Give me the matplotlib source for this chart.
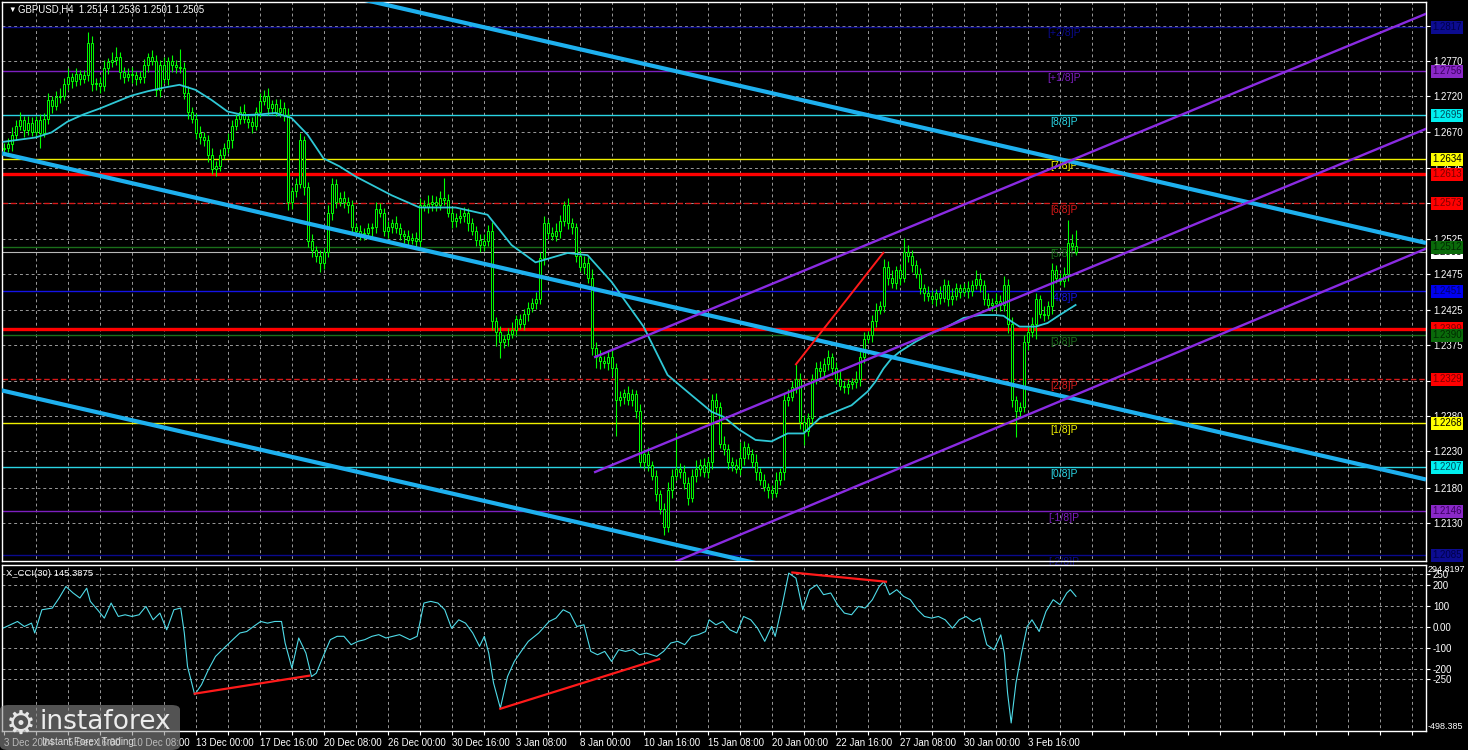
import numpy as np
import matplotlib.pyplot as plt
import matplotlib.transforms as mtransforms
from matplotlib.patches import FancyBboxPatch

plt.rcParams['font.family'] = ['Liberation Sans', 'DejaVu Sans']

W, H = 1468, 750

# GBPUSD H4, bar 0 = 3 Dec 2024 00:00. prices in pips above 1.2000
first_open = 648
closes = [
    650, 655, 668, 680, 688, 675, 684, 672, 688, 670,
    690, 716, 708, 720, 722, 738, 748, 742, 752, 745,
    750, 795, 738, 740, 735, 760, 768, 772, 775, 755,
    748, 752, 750, 745, 748, 765, 775, 770, 730, 765,
    745, 770, 765, 762, 760, 725, 700, 690, 670, 665,
    660, 640, 620, 625, 640, 650, 660, 680, 690, 700,
    690, 685, 680, 700, 715, 722, 705, 710, 700, 705,
    695, 575, 590, 600, 660, 595, 520, 508, 500, 490,
    505, 560, 600, 575, 580, 575, 570, 540, 535, 530,
    532, 538, 540, 565, 560, 535, 540, 545, 538, 530,
    528, 522, 525, 520, 570, 568, 572, 575, 570, 580,
    578, 560, 548, 552, 555, 560, 545, 535, 522, 515,
    520, 535, 410, 395, 380, 385, 392, 398, 412, 405,
    420, 428, 435, 440, 497, 545, 532, 528, 535, 548,
    570, 545, 540, 500, 485, 490, 470, 372, 360, 355,
    352, 360, 345, 300, 305, 310, 300, 308, 285, 215,
    225, 210, 195, 170, 150, 125, 175, 195, 205, 200,
    185, 165, 195, 205, 210, 200, 215, 300, 290, 240,
    232, 215, 210, 205, 220, 235, 225, 215, 200, 190,
    180, 175, 172, 190, 200, 300, 305, 318, 330, 270,
    258, 275, 330, 345, 340, 350, 360, 345, 330, 320,
    318, 322, 325, 330, 360, 385, 390, 410, 425, 430,
    485, 470, 462, 480, 470, 505, 500, 488, 475, 455,
    448, 445, 440, 448, 442, 460, 440, 445, 455, 450,
    455, 452, 460, 468, 460, 440, 432, 435, 438, 432,
    460, 405, 300, 285, 290, 380, 395, 405, 440, 420,
    418, 430, 480, 470, 465, 475, 518, 514, 505]
up_wick = [
    6, 8, 10, 8, 12, 6, 10, 8, 6, 8,
    8, 10, 6, 8, 10, 8, 12, 6, 8, 6,
    8, 15, 10, 6, 8, 12, 6, 10, 15, 8,
    6, 8, 10, 6, 8, 8, 6, 10, 8, 6,
    10, 6, 8, 6, 25, 8, 10, 6, 8, 10,
    6, 8, 10, 6, 8, 6, 10, 8, 6, 8,
    10, 6, 8, 6, 10, 8, 10, 6, 8, 12,
    8, 10, 6, 8, 10, 6, 8, 10, 6, 8,
    6, 10, 8, 6, 8, 10, 6, 8, 6, 8,
    6, 8, 6, 10, 8, 6, 8, 6, 10, 8,
    6, 8, 6, 8, 10, 8, 12, 10, 8, 10,
    28, 8, 6, 8, 10, 8, 6, 8, 6, 8,
    10, 8, 12, 6, 8, 6, 8, 10, 6, 8,
    6, 8, 6, 10, 8, 10, 6, 8, 10, 8,
    6, 10, 8, 6, 8, 10, 8, 12, 8, 10,
    6, 8, 10, 6, 8, 6, 10, 8, 6, 10,
    8, 10, 6, 8, 6, 8, 12, 10, 50, 8,
    10, 8, 10, 12, 8, 10, 6, 8, 10, 8,
    10, 8, 6, 8, 22, 8, 6, 8, 10, 6,
    8, 6, 8, 10, 6, 8, 10, 8, 20, 8,
    10, 8, 6, 8, 10, 8, 10, 6, 8, 10,
    6, 8, 6, 10, 8, 10, 6, 8, 10, 8,
    10, 8, 10, 6, 8, 20, 10, 8, 6, 8,
    6, 10, 8, 6, 10, 8, 6, 10, 8, 6,
    8, 10, 6, 12, 8, 6, 8, 6, 10, 8,
    12, 8, 10, 6, 8, 10, 8, 10, 8, 6,
    10, 8, 10, 8, 6, 10, 32, 12, 22]
dn_wick = [
    8, 6, 10, 8, 6, 10, 8, 6, 8, 20,
    6, 8, 10, 6, 8, 6, 8, 10, 6, 8,
    6, 8, 10, 8, 10, 6, 8, 6, 8, 10,
    8, 6, 10, 8, 6, 8, 10, 6, 8, 10,
    6, 8, 10, 8, 6, 8, 10, 6, 8, 10,
    8, 10, 6, 10, 8, 6, 8, 10, 6, 8,
    6, 8, 10, 6, 8, 6, 10, 8, 6, 8,
    8, 12, 10, 8, 6, 10, 8, 10, 8, 12,
    8, 6, 10, 8, 6, 8, 10, 8, 6, 8,
    8, 6, 10, 8, 6, 8, 10, 8, 6, 8,
    10, 8, 6, 10, 8, 6, 8, 10, 8, 6,
    8, 6, 10, 8, 6, 8, 10, 6, 8, 10,
    8, 6, 12, 20, 22, 8, 10, 6, 8, 6,
    8, 10, 6, 8, 6, 10, 8, 6, 8, 10,
    6, 8, 10, 8, 6, 10, 8, 10, 15, 12,
    8, 10, 12, 50, 8, 10, 6, 8, 10, 8,
    10, 8, 6, 10, 8, 12, 8, 10, 6, 8,
    8, 10, 6, 8, 10, 6, 8, 10, 8, 6,
    8, 10, 8, 6, 8, 10, 6, 8, 10, 8,
    6, 10, 8, 6, 8, 10, 8, 6, 8, 10,
    20, 8, 6, 8, 10, 6, 8, 10, 8, 6,
    8, 10, 6, 8, 10, 8, 6, 10, 8, 6,
    8, 10, 6, 8, 10, 6, 8, 10, 6, 8,
    10, 8, 6, 10, 8, 6, 10, 8, 6, 8,
    6, 10, 8, 6, 10, 8, 6, 8, 10, 8,
    8, 12, 10, 36, 8, 6, 10, 8, 20, 6,
    8, 6, 10, 8, 6, 8, 10, 6, 4]

# moving average (cyan line), pips above 1.2000
ma_bar = [0, 4, 8, 12, 16, 20, 24, 28, 32, 36, 40, 44, 48, 52, 56, 60, 64, 68, 72, 76,
          80, 84, 88, 97, 104, 113, 121, 127, 133, 141, 146, 152, 160, 166, 172, 177, 180,
          184, 188, 192, 196, 200, 204, 208, 212, 216, 218, 220, 222, 224, 228, 232, 236,
          240, 244, 248, 250, 252, 254, 258, 261, 264, 268]
ma_val = [658, 661, 664, 671, 686, 696, 704, 713, 722, 728, 733, 737, 730, 716, 700, 695,
          696, 698, 691, 668, 635, 624, 610, 584, 567, 567, 557, 515, 491, 504, 501, 464,
          402, 335, 307, 284, 277, 259, 245, 243, 254, 254, 275, 284, 293, 312, 326, 344,
          358, 367, 381, 393, 402, 414, 418, 418, 417, 409, 402, 402, 407, 418, 432]

# X_CCI(30)
cci_bar = [0, 1.7, 3.5, 5.2, 7, 7.8, 9.6, 12.2, 13.9, 15.6,
           17.4, 19.1, 20.8, 21.7, 23.5, 25.2, 26.9, 28.7, 30.4, 32.1,
           33.9, 35.6, 37.4, 39.1, 40.8, 42.6, 44.3, 45.2, 46, 47.8,
           49.5, 51.2, 53, 54.7, 57.3, 59.1, 60.8, 62.5, 64.3, 66,
           67.8, 69.5, 70.4, 72.1, 73.8, 75.6, 77, 78.2, 79.9, 81.7,
           83.4, 85.1, 86.9, 88.6, 90.3, 92.1, 93.8, 95.6, 97.3, 99,
           101.6, 103.4, 105.1, 106.8, 108.6, 110.3, 112, 113.8, 115.5, 117.3,
           119, 120.2, 121.3, 122.5, 124.2, 126, 127.7, 129.4, 131.2, 133.8,
           136.4, 138.1, 139.9, 141.6, 143.3, 145.1, 146.8, 148.5, 150.3, 152,
           153.8, 155.5, 157.2, 159, 160.7, 163.3, 165, 166.8, 168.5, 170.3,
           172, 173.7, 175.5, 176.4, 178.1, 179.8, 181.6, 183.3, 185, 186.8,
           188.5, 190.3, 192, 192.9, 194.6, 196.3, 198.1, 199.8, 201.5, 203.3,
           205, 206.8, 208.5, 210.2, 212, 213.7, 215.4, 217.2, 218.9, 220.1,
           221.5, 223.3, 225, 226.7, 228.5, 230.2, 232, 233.7, 235.4, 237.2,
           238.9, 240.6, 242.4, 244.1, 245.8, 247.6, 249.3, 250.2, 251, 251.9,
           253.1, 254.5, 255.9, 257.1, 258.9, 260.6, 262.4, 264.1, 265.8, 266.7,
           268.1]
cci_val = [-6, 9, 25, 1, 17, -30, 81, 89, 137, 192,
           161, 137, 184, 121, 81, 41, 113, 49, 57, 49,
           57, 97, 33, 65, -15, 81, 89, -30, -190, -325,
           -277, -206, -142, -110, -62, -30, -23, 1, 25, 17,
           25, 25, -78, -198, -54, -126, -238, -222, -142, -62,
           -46, -46, -86, -70, -62, -46, -38, -54, -46, -38,
           -62, -46, 113, 121, 113, 81, -7, 33, 17, -30,
           -94, -46, -126, -269, -389, -238, -166, -118, -70, -30,
           25, 41, 81, 65, 1, 9, -118, -134, -118, -166,
           -110, -118, -110, -134, -126, -142, -118, -78, -70, -86,
           -46, -38, -23, 33, 9, 25, -15, -30, 49, 33,
           -7, -70, 1, -46, 97, 256, 232, 81, 177, 200,
           153, 161, 105, 65, 57, 97, 89, 129, 192, 216,
           153, 177, 145, 129, 81, 49, 41, 49, 33, -7,
           33, 49, 25, 41, -86, -110, -39, -126, -317, -460,
           -269, -126, 1, 33, -23, 73, 129, 105, 161, 177,
           145]

# Murrey math levels
murrey_prices = [1.2085, 1.2146, 1.2207, 1.2268, 1.2329, 1.2390, 1.2451,
                 1.2512, 1.2573, 1.2634, 1.2695, 1.2756, 1.2817]
murrey_tags = ['[-2/8]P', '[-1/8]P', '[0/8]P', '[1/8]P', '[2/8]P', '[3/8]P', '[4/8]P',
               '[5/8]P', '[6/8]P', '[7/8]P', '[8/8]P', '[+1/8]P', '[+2/8]P']
murrey_colors = ['#0a0a8c', '#7d1fbf', '#2ad4e4', '#f0f000', '#d81818', '#1a6e1a', '#1414e6',
                 '#1a6e1a', '#d81818', '#f0f000', '#2ad4e4', '#7d1fbf', '#0a0a8c']
red_levels = [1.2613, 1.2399]
last_price = 1.2505

# price-scale boxes
box_prices = [1.2817, 1.2756, 1.2695, 1.2613, 1.2634, 1.2573, 1.2505, 1.2512,
              1.2451, 1.2399, 1.2390, 1.2329, 1.2268, 1.2207, 1.2146, 1.2085]
box_bg = ['#0c0c90', '#8a28c8', '#00f0f0', '#ff0000', '#ffff00', '#ff0000', '#ffffff', '#0a6a0a',
          '#0000f0', '#ff0000', '#0a6a0a', '#ff0000', '#ffff00', '#00f0f0', '#8a28c8', '#0c0c90']
box_fg = ['#00004a', '#3a0060', '#004a5a', '#7a0000', '#000000', '#7a0000', '#000000', '#002a00',
          '#00006a', '#7a0000', '#002a00', '#7a0000', '#000000', '#004a5a', '#3a0060', '#00004a']

# grid ticks; labels fully covered by the level boxes are left blank
price_ticks = [1.2819, 1.2770, 1.2721, 1.2672, 1.2622, 1.2573, 1.2524, 1.2475,
               1.2425, 1.2376, 1.2327, 1.2278, 1.2229, 1.2179, 1.2130]
price_labels = ['', '1.2770', '1.2720', '1.2670', '1.2625', '', '1.2525', '1.2475',
                '1.2425', '1.2375', '', '1.2280', '1.2230', '1.2180', '1.2130']
cci_ticks = [250, 200, 100, 0, -100, -200, -250]
cci_labels = ['250', '200', '100', '0.00', '-100', '-200', '-250']

date_bars = list(range(0, 257, 16))
date_labels = ['3 Dec 2024', '5 Dec 16:00', '10 Dec 08:00', '13 Dec 00:00', '17 Dec 16:00',
               '20 Dec 08:00', '26 Dec 00:00', '30 Dec 16:00', '3 Jan 08:00', '8 Jan 00:00',
               '10 Jan 16:00', '15 Jan 08:00', '20 Jan 00:00', '22 Jan 16:00', '27 Jan 08:00',
               '30 Jan 00:00', '3 Feb 16:00']

# channels: (bar, price) end points
blue_channel = [[(-0.9, 1.29703), (355.6, 1.25179)],
                [(-0.9, 1.26426), (355.6, 1.21902)],
                [(-0.9, 1.23142), (355.6, 1.18618)]]
purple_channel = [[(147.9, 1.23600), (355.6, 1.28354)],
                  [(147.9, 1.22006), (355.6, 1.26760)],
                  [(147.9, 1.20300), (355.6, 1.25100)]]
red_trend = [(198.1, 1.23498), (219.95, 1.25044)]
cci_trends = [[(47.8, -320), (76.45, -234)],
              [(124.2, -392), (163.9, -155)],
              [(197.2, 259), (220.6, 215)]]


def pr(v):
    return 1.2 + np.asarray(v, dtype=float) / 10000.0


GRID = dict(color='#9a9a9a', lw=0.7, linestyles=(0, (3, 3)))

fig = plt.figure(figsize=(W / 100, H / 100), dpi=100, facecolor='black')
ax = fig.add_axes([2 / W, 1 - 561 / H, 1424 / W, 559 / H], facecolor='black')
ax2 = fig.add_axes([2 / W, 1 - 731 / H, 1424 / W, 166 / H], facecolor='black')

xmin, xmax = -0.375, 355.6
ax.set_xlim(xmin, xmax)
ax.set_ylim(1.20773, 1.28517)
ax2.set_xlim(xmin, xmax)
ax2.set_ylim(-498.385, 294.8197)

for a in (ax, ax2):
    for s in a.spines.values():
        s.set_color('white')
        s.set_linewidth(1)
    a.vlines(np.arange(8, 356, 8), -1000, 1000, zorder=1, **GRID)
    a.yaxis.tick_right()
    a.tick_params(axis='y', colors='white', labelsize=7, length=3, width=0.8, pad=2,
                  direction='out')

ax.hlines(price_ticks, xmin, xmax, zorder=1, **GRID)
ax2.hlines(cci_ticks, xmin, xmax, zorder=1, **GRID)

# murrey levels
for p, tag, col in zip(murrey_prices, murrey_tags, murrey_colors):
    ls = (0, (4, 2)) if col == '#d81818' else '-'
    ax.axhline(p, color=col, lw=1.0, ls=ls, zorder=2)
    ax.text(265, p - 0.0002, tag, color=col, fontsize=7.5, ha='center', va='top', zorder=2.2)
ax.axhline(last_price, color='#b8b8b8', lw=0.8, zorder=2)
for p in red_levels:
    ax.axhline(p, color='#ff0000', lw=2.4, zorder=2.5)

# candles
c = pr(closes)
o = np.r_[pr(first_open), c[:-1]]
hi = np.maximum(o, c) + np.array(up_wick) / 10000.0
lo = np.minimum(o, c) - np.array(dn_wick) / 10000.0
x = np.arange(len(c))
ax.vlines(x, lo, hi, color='#00ff00', lw=0.8, zorder=4)
body = np.maximum(np.abs(c - o), 0.00012)
ax.bar(x, body, bottom=np.minimum(o, c), width=0.5, color='black', edgecolor='#00ff00',
       linewidth=0.7, zorder=5)

ax.plot(ma_bar, pr(ma_val), color='#2fc8d6', lw=1.3, zorder=6)

for line in blue_channel:
    (x0, y0), (x1, y1) = line
    ax.plot([x0, x1], [y0, y1], color='#1eb0ee', lw=3.0, zorder=7, solid_capstyle='butt')
for line in purple_channel:
    (x0, y0), (x1, y1) = line
    ax.plot([x0, x1], [y0, y1], color='#8a2be2', lw=1.7, zorder=7)
ax.plot([red_trend[0][0], red_trend[1][0]], [red_trend[0][1], red_trend[1][1]],
        color='#ff1a1a', lw=1.4, zorder=7)

ax.set_yticks(price_ticks)
ax.set_yticklabels(price_labels)
ax.tick_params(axis='x', bottom=False, labelbottom=False)

tr = mtransforms.blended_transform_factory(ax.transAxes, ax.transData)
for i, (p, bg, fg) in enumerate(zip(box_prices, box_bg, box_fg)):
    ax.text(1.0148, p, f'{p:.4f}', transform=tr, ha='center', va='center', fontsize=7,
            color=fg, clip_on=False, zorder=10 + i,
            bbox=dict(boxstyle='square,pad=0.15', fc=bg, ec='none'))

# CCI panel
ax2.plot(cci_bar, cci_val, color='#4fdbe8', lw=0.8, zorder=4)
for (x0, y0), (x1, y1) in cci_trends:
    ax2.plot([x0, x1], [y0, y1], color='#ff1a1a', lw=1.6, zorder=5)
ax2.set_yticks(cci_ticks)
ax2.set_yticklabels(cci_labels)
tr2 = mtransforms.blended_transform_factory(ax2.transAxes, ax2.transData)
ax2.text(1.0012, 294.8197, '294.8197', transform=tr2, ha='left', va='top', fontsize=6.5,
         color='white', clip_on=False)
ax2.text(1.0012, -498.385, '-498.385', transform=tr2, ha='left', va='bottom', fontsize=6.5,
         color='white', clip_on=False)

ax2.set_xticks(np.arange(0, 356, 8))
ax2.set_xticklabels([date_labels[date_bars.index(b)] if b in date_bars else ''
                     for b in range(0, 356, 8)])
ax2.tick_params(axis='x', colors='white', labelsize=7, length=3, width=0.8, pad=2)
for lbl in ax2.get_xticklabels():
    lbl.set_horizontalalignment('left')

# header texts
fig.text(8 / W, 1 - 10 / H, '\u25bc', color='white', fontsize=5.5, va='center')
fig.text(18 / W, 1 - 10 / H, 'GBPUSD,H4  1.2514 1.2536 1.2501 1.2505', color='white',
         fontsize=6.9, va='center')
fig.text(6 / W, 1 - 573 / H, 'X_CCI(30) 145.3875', color='white', fontsize=6.8, va='center')

# watermark
fig.add_artist(FancyBboxPatch((0, 0), 180 / W, 45 / H,
                              boxstyle='round,pad=0,rounding_size=0.006',
                              transform=fig.transFigure, fc='#8c8c8c', ec='none', alpha=0.6))
fig.text(6 / W, 1 - 724 / H, '\u2699', color='#e6e6e6', fontsize=24, va='center',
         family='DejaVu Sans')
fig.text(40 / W, 1 - 722 / H, 'instaforex', color='#ececec', fontsize=19, va='center',
         family='DejaVu Sans')
fig.text(42 / W, 1 - 742 / H, 'Instant Forex Trading', color='#dcdcdc', fontsize=7,
         va='center')

fig.savefig('out.png', dpi=100, facecolor='black')
